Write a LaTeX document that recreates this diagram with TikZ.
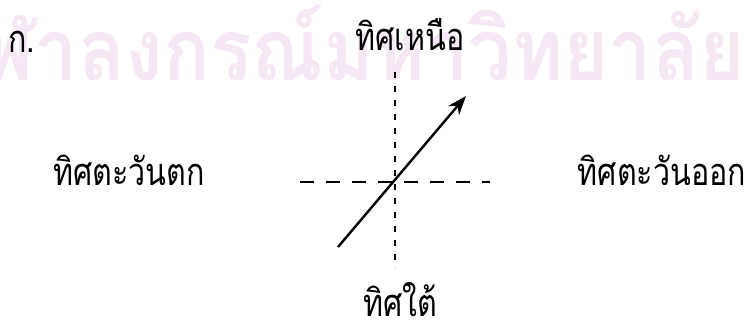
\documentclass[tikz,border=0pt]{standalone}
\usepackage{fontspec}
\newfontfamily\thaifont[Script=Thai]{Loma}
\newfontfamily\thaicond[Script=Thai,FakeStretch=0.8]{Loma}
\newfontfamily\thaiwm[Script=Thai,FakeStretch=0.9]{Loma Bold}
\usetikzlibrary{arrows.meta}
\definecolor{wmark}{RGB}{245,231,244}
\tikzset{
  label/.style={font=\thaicond\fontsize{38}{40}\selectfont, inner sep=0pt, anchor=base},
  wm/.style={font=\thaiwm\fontsize{86}{90}\selectfont, text=wmark, inner sep=0pt, anchor=base east},
  axis/.style={line width=1.4pt},
  vdash/.style={axis, dash pattern=on 6pt off 8pt},
  hdash/.style={axis, dash pattern=on 14pt off 12pt},
  dirarrow/.style={line width=2.4pt, -{Stealth[length=19pt,width=14pt,inset=6pt]}}
}
\begin{document}
\begin{tikzpicture}[x=1pt,y=-1pt]
\useasboundingbox (0,0) rectangle (747,322);
\begin{scope}
\clip (0,0) rectangle (747,322);
\node[wm] (wmark) at (745,80) {จุฬาลงกรณ์มหาวิทยาลัย};
\end{scope}
\node[label, anchor=base west] (ka) at (8,52) {ก.};
\node[label] (north) at (410,50) {ทิศเหนือ};
\node[label] (south) at (400,316) {ทิศใต้};
\node[label] (west) at (129,185) {ทิศตะวันตก};
\node[label] (east) at (662,185) {ทิศตะวันออก};
\coordinate (vtop) at (395,72);
\coordinate (vbot) at (395,268);
\coordinate (hleft) at (300,182);
\coordinate (hright) at (490,182);
\coordinate (tail) at (338,247);
\coordinate (tip) at (466,96);
\draw[vdash] (vtop) -- (vbot);
\draw[hdash] (hleft) -- (hright);
\draw[dirarrow] (tail) -- (tip);
\end{tikzpicture}
\end{document}
